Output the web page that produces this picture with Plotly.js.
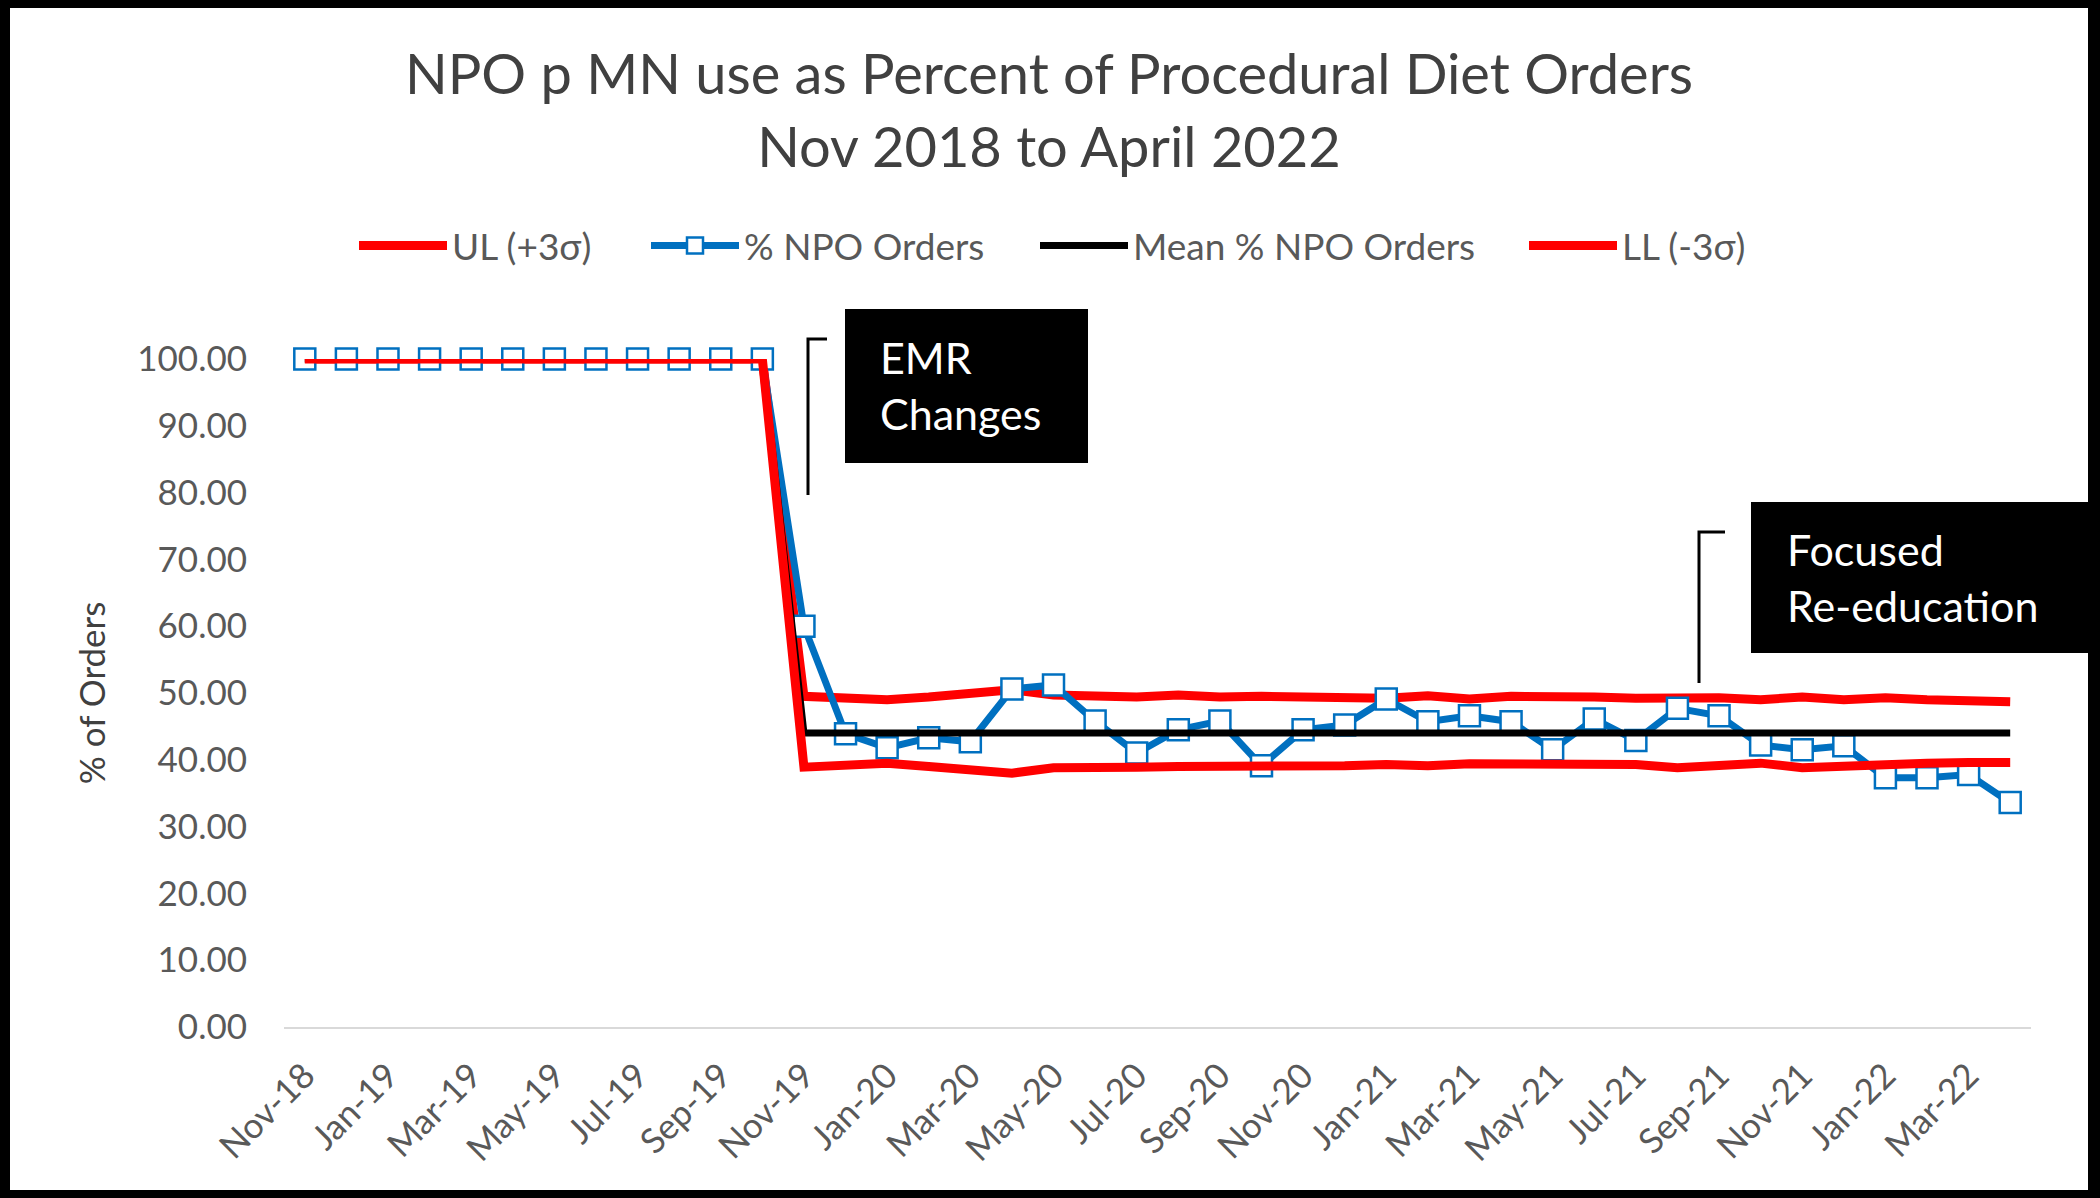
<!DOCTYPE html>
<html>
<head>
<meta charset="utf-8">
<script src="https://cdn.plot.ly/plotly-3.0.1.min.js"></script>
<style>
  html, body { margin: 0; padding: 0; background: #000; width: 2100px; height: 1198px; overflow: hidden; }
  #chart { position: absolute; left: 10px; top: 8px; width: 2078px; height: 1182px; background: #fff; }
</style>
</head>
<body>
<div id="chart"></div>
<script>
// ---- Data ----
const months = ["Nov-18","Dec-18","Jan-19","Feb-19","Mar-19","Apr-19","May-19","Jun-19","Jul-19","Aug-19","Sep-19","Oct-19",
  "Nov-19","Dec-19","Jan-20","Feb-20","Mar-20","Apr-20","May-20","Jun-20","Jul-20","Aug-20","Sep-20","Oct-20",
  "Nov-20","Dec-20","Jan-21","Feb-21","Mar-21","Apr-21","May-21","Jun-21","Jul-21","Aug-21","Sep-21","Oct-21",
  "Nov-21","Dec-21","Jan-22","Feb-22","Mar-22","Apr-22"];

const tickLabels = ["Nov-18","Jan-19","Mar-19","May-19","Jul-19","Sep-19","Nov-19","Jan-20","Mar-20","May-20","Jul-20",
  "Sep-20","Nov-20","Jan-21","Mar-21","May-21","Jul-21","Sep-21","Nov-21","Jan-22","Mar-22"];

const pctNPO = [100,100,100,100,100,100,100,100,100,100,100,100,
  60.0,43.9,41.8,43.3,42.7,50.6,51.2,45.8,41.0,44.5,45.8,39.1,
  44.5,45.2,49.1,45.7,46.6,45.7,41.5,46.1,42.9,47.7,46.6,42.2,
  41.5,42.1,37.3,37.3,37.8,33.6];

const meanNPO = [100,100,100,100,100,100,100,100,100,100,100,100,
  44.0,44.0,44.0,44.0,44.0,44.0,44.0,44.0,44.0,44.0,44.0,44.0,
  44.0,44.0,44.0,44.0,44.0,44.0,44.0,44.0,44.0,44.0,44.0,44.0,
  44.0,44.0,44.0,44.0,44.0,44.0];

const upperLimit = [100,100,100,100,100,100,100,100,100,100,100,100,
  49.5,49.2,49.0,49.4,49.8,50.5,49.7,49.4,49.4,49.7,49.4,49.5,
  49.5,49.4,49.2,49.6,49.1,49.5,49.6,49.4,49.2,49.4,49.3,49.0,
  49.4,49.0,49.3,49.0,48.7,48.7];

const lowerLimit = [100,100,100,100,100,100,100,100,100,100,100,100,
  38.9,39.1,39.5,39.0,38.6,38.0,38.8,39.0,38.9,39.0,39.0,38.8,
  38.8,39.1,39.3,39.1,39.4,39.4,39.1,39.3,39.3,38.8,39.1,39.5,
  38.8,39.1,39.3,39.5,39.6,39.6];

const seriesNames = ["UL (+3σ)", "% NPO Orders", "Mean % NPO Orders", "LL (-3σ)"];
const titleText = "NPO p MN use as Percent of Procedural Diet Orders<br>Nov 2018 to April 2022";
const yTitle = "% of Orders";
const notes = ["EMR<br>Changes", "Focused<br>Re-education"];

// ---- Layout helpers (pixel positions in the 2100x1198 picture -> paper coords) ----
const plotL = 284, plotR = 2031, plotT = 359, plotB = 1027;
const px = x => (x - plotL) / (plotR - plotL);
const py = y => (plotB - y) / (plotB - plotT);

const FONT = "Lato, 'Open Sans', sans-serif";
const GREY = "#595959";

const traces = [
  { x: months, y: upperLimit, name: seriesNames[0], type: "scatter", mode: "lines", legend: "legend",
    line: { color: "#FF0000", width: 9 } },
  { x: months, y: pctNPO, name: seriesNames[1], type: "scatter", mode: "lines+markers", legend: "legend2",
    line: { color: "#0070C0", width: 7 },
    marker: { symbol: "square", size: 21, color: "#FFFFFF", line: { color: "#0070C0", width: 2.5 } } },
  { x: months, y: meanNPO, name: seriesNames[2], type: "scatter", mode: "lines", legend: "legend3",
    line: { color: "#000000", width: 7 } },
  { x: months, y: lowerLimit, name: seriesNames[3], type: "scatter", mode: "lines", legend: "legend4",
    line: { color: "#FF0000", width: 9 } }
];
traces.forEach(t => t.cliponaxis = false);

function legendAt(xpix) {
  return { orientation: "h", x: px(xpix), xanchor: "left", y: py(246), yanchor: "middle",
    font: { family: FONT, size: 37, color: GREY }, itemwidth: 88, bgcolor: "rgba(0,0,0,0)" };
}

const layout = {
  width: 2078, height: 1182,
  margin: { l: 274, r: 57, t: 351, b: 163 },
  paper_bgcolor: "#FFFFFF", plot_bgcolor: "#FFFFFF",
  font: { family: FONT, color: GREY },
  showlegend: true,
  title: { text: titleText, font: { family: FONT, size: 56, color: "#404040" },
    x: 0.5, xref: "container", xanchor: "center", y: 0.927, yref: "container", yanchor: "middle" },
  legend: legendAt(354),
  legend2: legendAt(646),
  legend3: legendAt(1035),
  legend4: legendAt(1524),
  xaxis: {
    type: "category", categoryorder: "array", categoryarray: months,
    range: [-0.5, months.length - 0.5],
    tickmode: "array", tickvals: tickLabels, ticktext: tickLabels,
    tickangle: -45, tickfont: { family: FONT, size: 35, color: GREY },
    ticks: "", ticklabelstandoff: 12,
    showline: true, linecolor: "#D9D9D9", linewidth: 2, showgrid: false, zeroline: false, fixedrange: true
  },
  yaxis: {
    range: [0, 100], dtick: 10, tick0: 0, tickformat: ".2f",
    tickfont: { family: FONT, size: 35, color: GREY },
    ticks: "", ticklabelstandoff: 36,
    showgrid: false, zeroline: false, showline: false, fixedrange: true,
    title: { text: yTitle, font: { family: FONT, size: 35, color: "#404040" }, standoff: 20 }
  },
  shapes: [
    { type: "rect", xref: "paper", yref: "paper", x0: px(845), x1: px(1088), y0: py(463), y1: py(309),
      fillcolor: "#000000", line: { width: 0 } },
    { type: "rect", xref: "paper", yref: "paper", x0: px(1751), x1: px(2095), y0: py(653), y1: py(502),
      fillcolor: "#000000", line: { width: 0 } },
    { type: "path", xref: "paper", yref: "paper",
      path: `M ${px(827)} ${py(339)} L ${px(808)} ${py(339)} L ${px(808)} ${py(495)}`,
      line: { color: "#000000", width: 3 } },
    { type: "path", xref: "paper", yref: "paper",
      path: `M ${px(1725)} ${py(532)} L ${px(1699)} ${py(532)} L ${px(1699)} ${py(683)}`,
      line: { color: "#000000", width: 3 } }
  ],
  annotations: [
    { xref: "paper", yref: "paper", x: px(878), y: py(385), xanchor: "left", yanchor: "middle",
      text: notes[0], align: "left", showarrow: false,
      font: { family: FONT, size: 43, color: "#FFFFFF" } },
    { xref: "paper", yref: "paper", x: px(1785), y: py(577), xanchor: "left", yanchor: "middle",
      text: notes[1], align: "left", showarrow: false,
      font: { family: FONT, size: 43, color: "#FFFFFF" } }
  ]
};

Plotly.newPlot("chart", traces, layout, { displayModeBar: false, staticPlot: true });
</script>
</body>
</html>
